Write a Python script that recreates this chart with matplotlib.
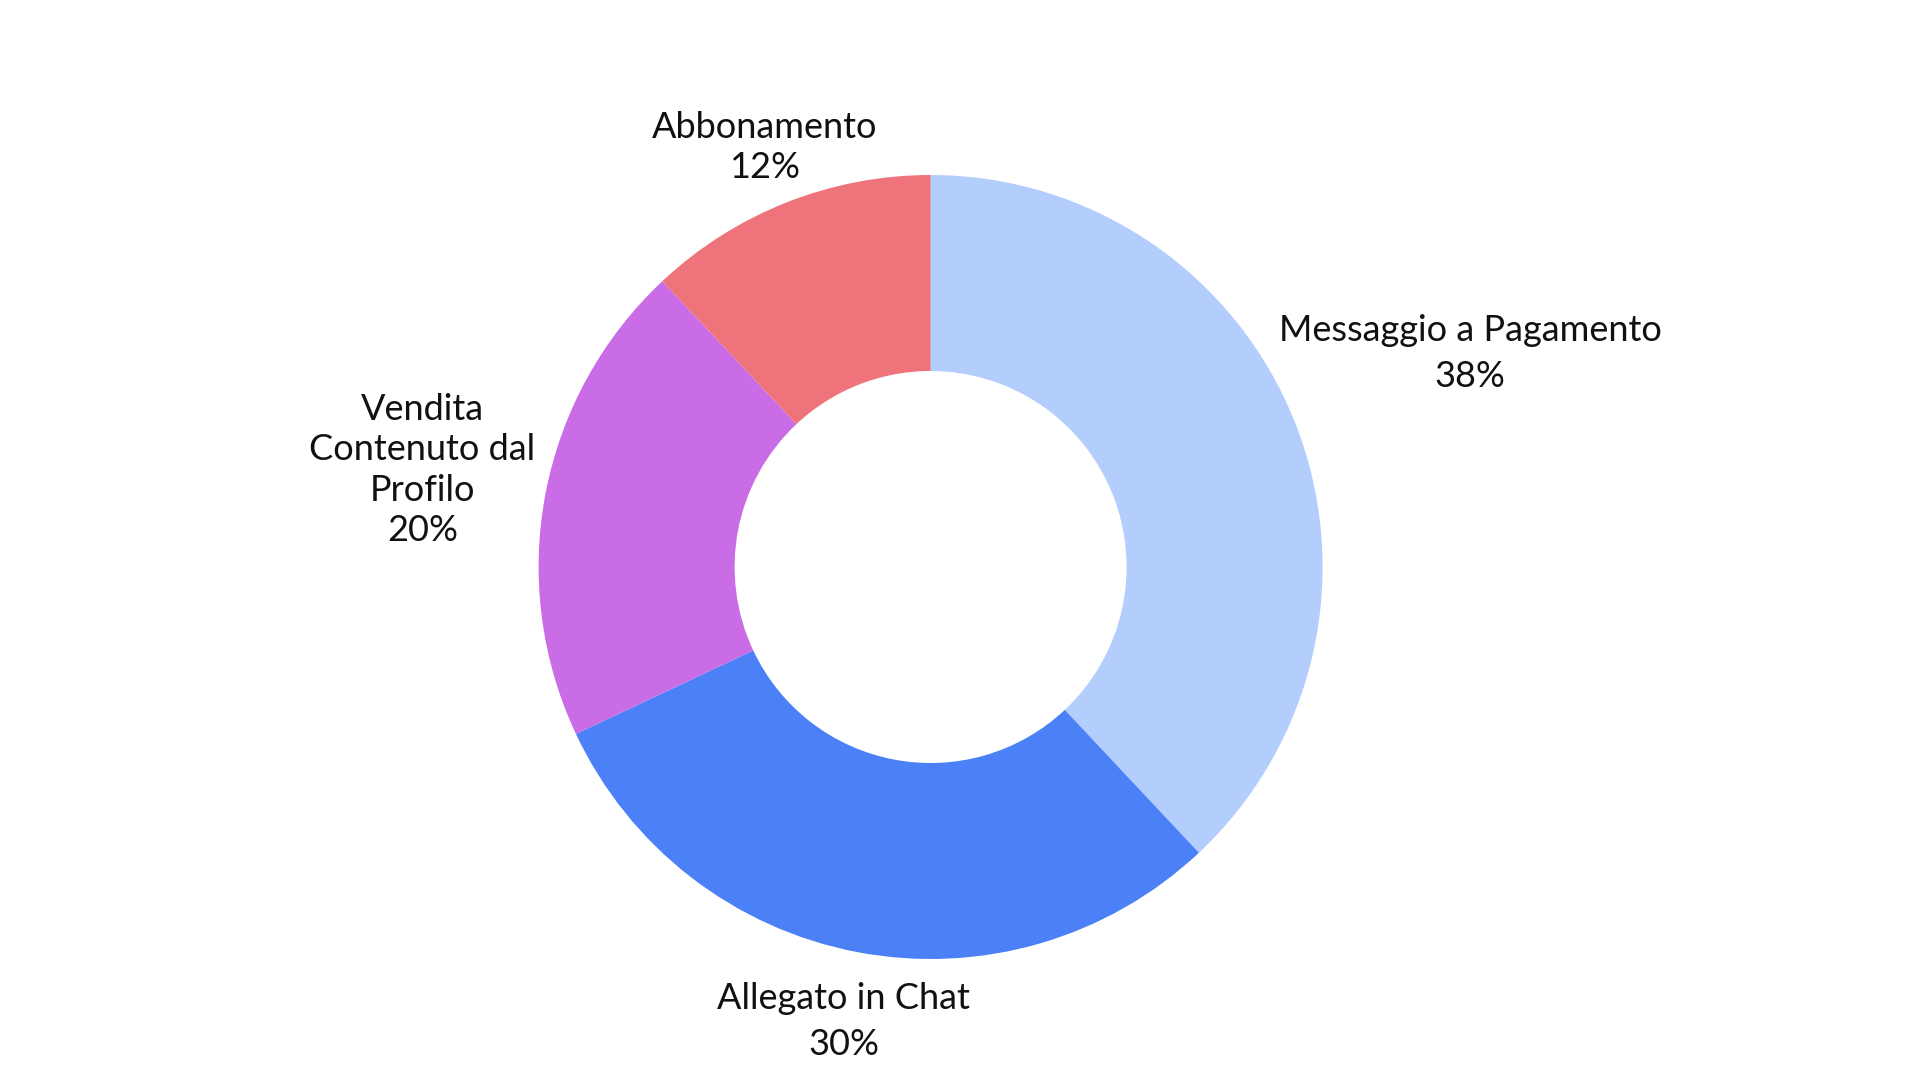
import numpy as np
import matplotlib
matplotlib.use("Agg")
import matplotlib.pyplot as plt

categories = ["Messaggio a Pagamento", "Allegato in Chat", "Vendita\nContenuto dal\nProfilo", "Abbonamento"]
values = [38, 30, 20, 12]
colors = ["#b3cdfd", "#4b80f7", "#c96ce6", "#ef737a"]
label_dist = [1.48, 1.18, 1.32, 1.15]
line_sp = [1.5, 1.5, 1.27, 1.25]

W, H = 1920, 1080
fig = plt.figure(figsize=(W / 100, H / 100), dpi=100)
ax = fig.add_axes([0, 0, 1, 1])
ax.set_xlim(0, W)
ax.set_ylim(0, H)
ax.set_aspect("equal")
ax.axis("off")

cx, cy = 930.6, 513.0
R = 392.0
wedges, _ = ax.pie(values, colors=colors, startangle=90, counterclock=False,
                   radius=R, center=(cx, cy),
                   wedgeprops=dict(width=R * 0.5, edgecolor="none", linewidth=0))
ax.set_xlim(0, W)
ax.set_ylim(0, H)

total = sum(values)
angle = 90.0
for cat, v, d, ls in zip(categories, values, label_dist, line_sp):
    span = 360.0 * v / total
    mid = np.deg2rad(angle - span / 2)
    angle -= span
    x = cx + d * R * np.cos(mid)
    y = cy + d * R * np.sin(mid)
    ax.text(x, y, f"{cat}\n{v}%", ha="center", va="center", fontsize=26,
            family="Lato", color="#111111", linespacing=ls)

fig.savefig("out.png", dpi=100, facecolor="white")
